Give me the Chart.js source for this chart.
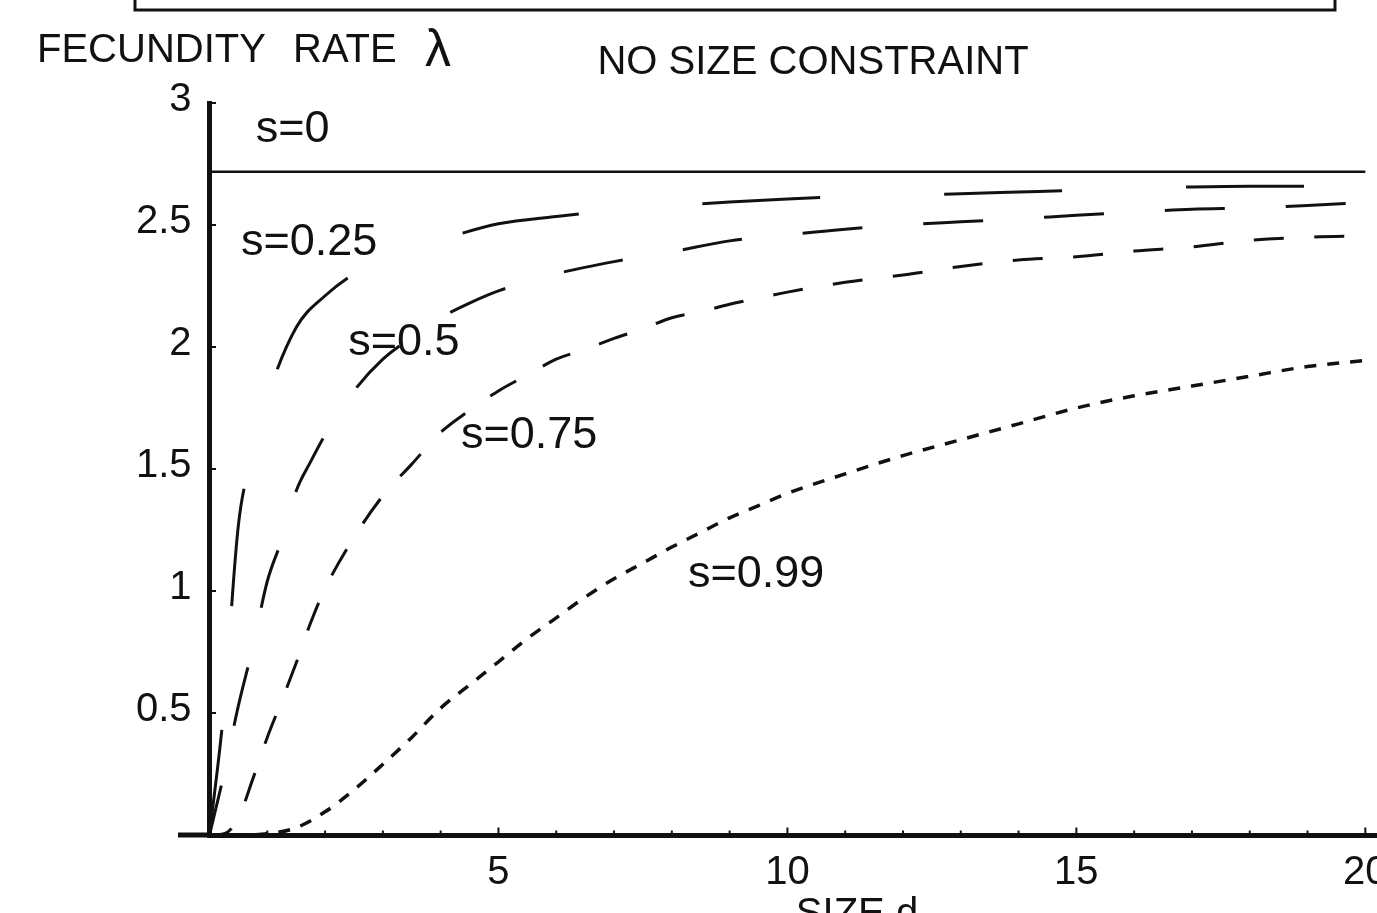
<!DOCTYPE html>
<html>
<head>
<meta charset="utf-8">
<title>Fecundity rate vs size</title>
<script src="https://cdn.jsdelivr.net/npm/chart.js@4.4.1/dist/chart.umd.min.js"></script>
<style>
  html, body { margin: 0; padding: 0; background: #fff; overflow: hidden; }
  #wrap { width: 1420px; height: 960px; }
</style>
</head>
<body>
<div id="wrap"><canvas id="fecundity" width="1420" height="960"></canvas></div>
<script>
// values (lambda against size d, one curve per s)
const sizeS0 = [0, 20];
const lambdaS0 = [2.718, 2.718];

const sizeS025 = [0, 0.25, 0.5, 0.75, 1, 1.5, 2, 2.5, 3, 3.5, 4, 5, 6, 7, 8, 9, 10, 11, 12, 13, 14, 15, 16, 17, 18, 19, 20];
const lambdaS025 = [0, 0.52, 1.27, 1.56, 1.79, 2.08, 2.21, 2.30, 2.36, 2.405, 2.44, 2.505, 2.535, 2.56, 2.578, 2.594, 2.607, 2.617, 2.622, 2.628, 2.635, 2.642, 2.65, 2.656, 2.659, 2.659, 2.66];

const sizeS05 = [0, 0.25, 0.5, 0.75, 1, 1.25, 1.5, 1.75, 2, 2.5, 3, 3.5, 4, 4.5, 5, 6, 7, 8, 9, 10, 11, 12, 13, 14, 15, 16, 17, 18, 19, 20];
const lambdaS05 = [0, 0.25, 0.53, 0.77, 1.04, 1.21, 1.41, 1.53, 1.64, 1.82, 1.95, 2.04, 2.12, 2.18, 2.23, 2.30, 2.35, 2.39, 2.435, 2.46, 2.483, 2.50, 2.513, 2.525, 2.54, 2.553, 2.565, 2.57, 2.58, 2.593];

const sizeS075 = [0, 0.25, 0.5, 0.75, 1, 1.25, 1.5, 1.75, 2, 2.5, 3, 3.5, 4, 4.5, 5, 5.5, 6, 6.5, 7, 7.5, 8, 8.5, 9, 9.5, 10, 11, 12, 13, 14, 15, 16, 17, 18, 19, 20];
const lambdaS075 = [0, 0.005, 0.07, 0.23, 0.40, 0.55, 0.705, 0.87, 1.01, 1.22, 1.39, 1.52, 1.65, 1.74, 1.82, 1.885, 1.95, 1.99, 2.035, 2.075, 2.12, 2.145, 2.175, 2.20, 2.225, 2.265, 2.295, 2.33, 2.357, 2.37, 2.393, 2.41, 2.437, 2.45, 2.455];

const sizeS099 = [0, 0.5, 1, 1.5, 2, 2.5, 3, 3.5, 4, 4.5, 5, 5.5, 6, 6.5, 7, 7.5, 8, 8.5, 9, 9.5, 10, 11, 12, 13, 14, 15, 16, 17, 18, 19, 20];
const lambdaS099 = [0, 0, 0.005, 0.03, 0.095, 0.185, 0.29, 0.40, 0.52, 0.615, 0.71, 0.805, 0.89, 0.975, 1.05, 1.115, 1.18, 1.24, 1.30, 1.35, 1.40, 1.48, 1.555, 1.62, 1.685, 1.75, 1.80, 1.84, 1.88, 1.92, 1.945];

const curveNames = ["s=0", "s=0.25", "s=0.5", "s=0.75", "s=0.99"];
const xTickValues = [5, 10, 15, 20];
const yTickValues = [0.5, 1, 1.5, 2, 2.5, 3];

const ink = "#111";
const fontFamily = "'Liberation Sans', Arial, sans-serif";
// where each curve name sits, in data units (d, lambda)
const nameSpots = [[0.8, 2.89], [0.545, 2.426], [2.4, 2.02], [4.35, 1.635], [8.28, 1.066]];

Chart.defaults.font.family = fontFamily;
Chart.defaults.color = ink;

function toPoints(xs, ys) {
  return xs.map((x, i) => ({ x: x, y: ys[i] }));
}

function curve(name, xs, ys, dash, offset, width) {
  return {
    label: name,
    data: toPoints(xs, ys),
    showLine: true,
    borderColor: ink,
    borderWidth: width,
    borderDash: dash,
    borderDashOffset: offset,
    pointRadius: 0,
    fill: false,
    cubicInterpolationMode: "monotone",
  };
}

// inward tick marks, the axis stub left of the origin, the frame of the
// panel above, and all the free text
const decor = {
  id: "decor",
  afterDraw(chart) {
    const ctx = chart.ctx;
    const xs = chart.scales.x;
    const ys = chart.scales.y;
    const x0 = xs.getPixelForValue(0);
    const y0 = ys.getPixelForValue(0);
    ctx.save();
    ctx.strokeStyle = ink;

    ctx.lineWidth = 5;
    ctx.beginPath();
    ctx.moveTo(x0 - 31.5, y0);
    ctx.lineTo(x0, y0);
    ctx.stroke();

    ctx.lineWidth = 2;
    for (let d = 1; d <= 20; d++) {
      const px = xs.getPixelForValue(d);
      const len = d % 5 === 0 ? 5 : 2;
      ctx.beginPath();
      ctx.moveTo(px, y0);
      ctx.lineTo(px, y0 - 2.5 - len);
      ctx.stroke();
    }
    yTickValues.forEach((v) => {
      const py = ys.getPixelForValue(v);
      ctx.beginPath();
      ctx.moveTo(x0, py);
      ctx.lineTo(x0 + 2.5 + 4, py);
      ctx.stroke();
    });

    ctx.lineWidth = 3;
    ctx.strokeRect(135, -20, 1200, 30);

    ctx.fillStyle = ink;
    ctx.textAlign = "left";
    ctx.textBaseline = "middle";
    ctx.font = `40px ${fontFamily}`;
    ctx.fillText("FECUNDITY", 37, 51);
    ctx.fillText("RATE", 293, 51);
    ctx.font = `52px ${fontFamily}`;
    ctx.fillText("\u03bb", 425, 52);
    ctx.font = `40px ${fontFamily}`;
    ctx.textAlign = "center";
    ctx.fillText("NO SIZE CONSTRAINT", 813, 63);
    ctx.textBaseline = "alphabetic";
    ctx.fillText("SIZE d", 857, 926);

    ctx.font = `45px ${fontFamily}`;
    ctx.textAlign = "left";
    ctx.textBaseline = "middle";
    nameSpots.forEach((p, i) => {
      ctx.fillText(curveNames[i], xs.getPixelForValue(p[0]), ys.getPixelForValue(p[1]));
    });
    ctx.restore();
  },
};

const the_chart = new Chart(document.getElementById("fecundity"), {
  type: "scatter",
  data: {
    datasets: [
      curve(curveNames[0], sizeS0, lambdaS0, [], 0, 2.5),
      curve(curveNames[1], sizeS025, lambdaS025, [118, 124], 12, 3),
      curve(curveNames[2], sizeS05, lambdaS05, [60, 61], 9, 3),
      curve(curveNames[3], sizeS075, lambdaS075, [30, 30.5], 6, 3),
      curve(curveNames[4], sizeS099, lambdaS099, [12, 11], 0, 3.5),
    ],
  },
  options: {
    responsive: false,
    animation: false,
    events: [],
    layout: { padding: { left: 109.5, top: 103, right: 20, bottom: 45 } },
    plugins: {
      legend: { display: false },
      tooltip: { enabled: false },
      title: { display: false },
    },
    scales: {
      x: {
        type: "linear",
        min: 0,
        max: 20.6,
        position: "bottom",
        afterBuildTicks: (scale) => {
          scale.ticks = xTickValues.map((v) => ({ value: v }));
        },
        afterFit: (scale) => {
          scale.height = 80;
        },
        grid: { display: false, drawTicks: false },
        border: { display: true, width: 5, color: ink },
        ticks: {
          font: { size: 40 },
          color: ink,
          padding: 14,
          maxRotation: 0,
          autoSkip: false,
          callback: (v) => String(v),
        },
      },
      y: {
        type: "linear",
        min: 0,
        max: 3,
        position: "left",
        afterBuildTicks: (scale) => {
          scale.ticks = yTickValues.map((v) => ({ value: v }));
        },
        afterFit: (scale) => {
          scale.width = 100;
        },
        grid: { display: false, drawTicks: false },
        border: { display: true, width: 5, color: ink },
        ticks: {
          font: { size: 40 },
          color: ink,
          padding: 18,
          labelOffset: -3,
          autoSkip: false,
          callback: (v) => String(v),
        },
      },
    },
  },
  plugins: [decor],
});
</script>
</body>
</html>
